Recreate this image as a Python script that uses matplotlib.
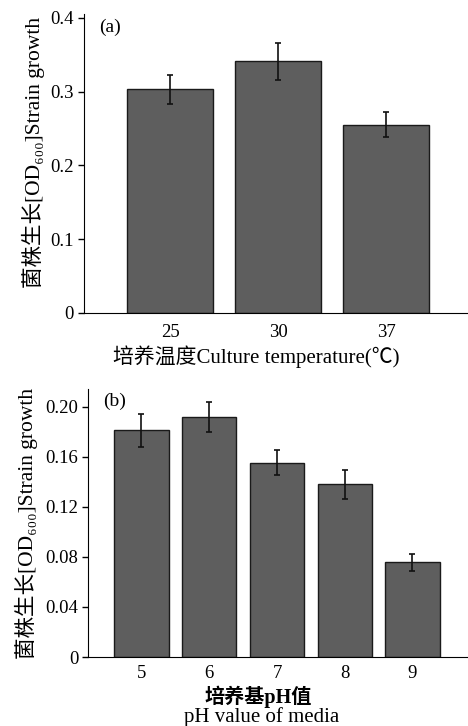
import numpy as np
import matplotlib
matplotlib.use("Agg")
import matplotlib.pyplot as plt

plt.rcParams['font.family'] = ['Liberation Serif', 'Noto Sans CJK SC', 'DejaVu Serif']

# (a) culture temperature
temps = ["25", "30", "37"]
growth_t = [0.303, 0.341, 0.255]
err_t = [0.020, 0.025, 0.017]

# (b) pH of media
ph = ["5", "6", "7", "8", "9"]
growth_ph = [0.181, 0.192, 0.155, 0.138, 0.0755]
err_ph = [0.013, 0.012, 0.010, 0.0115, 0.0068]

ylab = "菌株生长[OD₆₀₀]Strain growth"
bar_color = "#5e5e5e"

fig = plt.figure(figsize=(4.68, 7.26), dpi=100)

ax1 = fig.add_axes([0.179, 0.569, 0.821, 0.412])
x1 = np.arange(len(temps))
ax1.bar(x1, growth_t, width=0.8, color=bar_color, edgecolor="#1a1a1a", linewidth=1.0,
        yerr=err_t, error_kw=dict(ecolor="#111111", elinewidth=1.2, capsize=2.5, capthick=1.2))
ax1.set_xlim(-0.8, 2.76)
ax1.set_ylim(0, 0.4054)
ax1.set_yticks([0, 0.1, 0.2, 0.3, 0.4])
ax1.set_yticklabels(["0", "0.1", "0.2", "0.3", "0.4"])
ax1.set_xticks(x1)
ax1.set_xticklabels(temps)
ax1.tick_params(axis="x", length=0, pad=8, labelsize=13.5)
ax1.tick_params(axis="y", direction="out", length=4, width=1, labelsize=13.5, pad=3)
ax1.spines[["top", "right"]].set_visible(False)
ax1.set_xlabel("培养温度Culture temperature(℃)", fontsize=15, labelpad=3)
ax1.xaxis.set_label_coords(0.448, -0.11)
ax1.set_ylabel(ylab, fontsize=15.5, labelpad=4)
ax1.yaxis.set_label_coords(-0.10, 0.535)
ax1.text(0.04, 0.985, "(a)", transform=ax1.transAxes, fontsize=14, va="top")

ax2 = fig.add_axes([0.188, 0.095, 0.812, 0.369])
x2 = np.arange(len(ph))
ax2.bar(x2, growth_ph, width=0.8, color=bar_color, edgecolor="#1a1a1a", linewidth=1.0,
        yerr=err_ph, error_kw=dict(ecolor="#111111", elinewidth=1.2, capsize=2.5, capthick=1.2))
ax2.set_xlim(-0.79, 4.82)
ax2.set_ylim(0, 0.2139)
ax2.set_yticks([0, 0.04, 0.08, 0.12, 0.16, 0.20])
ax2.set_yticklabels(["0", "0.04", "0.08", "0.12", "0.16", "0.20"])
ax2.set_xticks(x2)
ax2.set_xticklabels(ph)
ax2.tick_params(axis="x", length=0, pad=6, labelsize=13.5)
ax2.tick_params(axis="y", direction="out", length=4, width=1, labelsize=13.5, pad=3)
ax2.spines[["top", "right"]].set_visible(False)
ax2.set_xlabel("")
ax2.text(0.448, -0.149, "培养基pH值", transform=ax2.transAxes, fontsize=14.5,
         fontweight="bold", ha="center", va="center")
ax2.text(0.458, -0.224, "pH value of media", transform=ax2.transAxes, fontsize=15,
         ha="center", va="center")
ax2.set_ylabel(ylab, fontsize=15.5, labelpad=4)
ax2.yaxis.set_label_coords(-0.132, 0.5)
ax2.text(0.04, 0.985, "(b)", transform=ax2.transAxes, fontsize=14, va="top")

fig.savefig("out.png", dpi=100)
